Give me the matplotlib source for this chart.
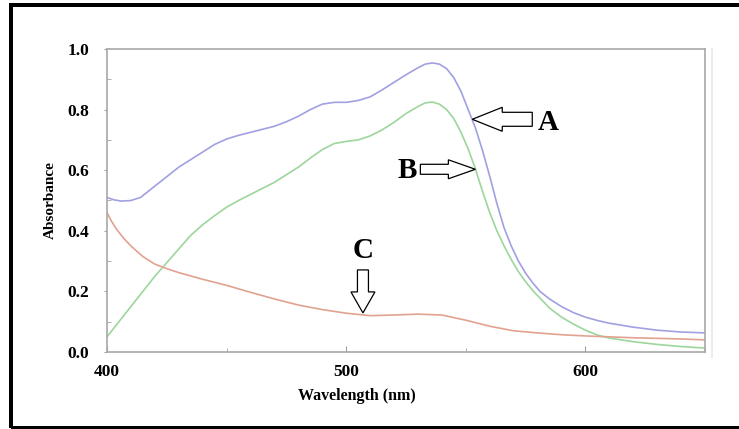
import matplotlib
matplotlib.use("Agg")
import matplotlib.pyplot as plt
from matplotlib.patches import Polygon, Rectangle
from matplotlib.lines import Line2D
from matplotlib.ticker import MultipleLocator, FormatStrFormatter

plt.rcParams['font.family'] = ['Liberation Serif', 'DejaVu Serif']
plt.rcParams['font.weight'] = 'bold'

# ---- data ----
wl_A = [400, 403, 406, 410, 414, 418, 422, 426, 430, 435, 440, 445, 450, 455, 460,
        465, 470, 475, 480, 485, 490, 495, 500, 505, 510, 515, 520, 525, 530, 533,
        536, 539, 542, 545, 548, 551, 554, 557, 560, 563, 566, 569, 572, 575, 578,
        581, 585, 590, 595, 600, 605, 610, 620, 630, 640, 650]
abs_A = [0.51, 0.502, 0.498, 0.50, 0.51, 0.535, 0.56, 0.585, 0.61, 0.635, 0.66, 0.685,
         0.703, 0.715, 0.725, 0.735, 0.745, 0.76, 0.778, 0.80, 0.818, 0.824, 0.824,
         0.83, 0.842, 0.865, 0.89, 0.915, 0.938, 0.95, 0.954, 0.95, 0.935, 0.905,
         0.86, 0.80, 0.74, 0.665, 0.58, 0.49, 0.41, 0.35, 0.30, 0.26, 0.228, 0.20,
         0.175, 0.15, 0.13, 0.115, 0.104, 0.095, 0.082, 0.072, 0.066, 0.063]

wl_B = [400, 405, 410, 415, 420, 425, 430, 435, 440, 445, 450, 455, 460, 465, 470,
        475, 480, 485, 490, 495, 500, 505, 510, 515, 520, 525, 530, 533, 536, 539,
        542, 545, 548, 551, 554, 557, 560, 563, 566, 569, 572, 575, 578, 581, 585,
        590, 595, 600, 605, 610, 620, 630, 640, 650]
abs_B = [0.05, 0.10, 0.15, 0.20, 0.25, 0.295, 0.34, 0.385, 0.42, 0.45, 0.478, 0.50,
         0.52, 0.54, 0.56, 0.585, 0.61, 0.64, 0.668, 0.688, 0.695, 0.70, 0.713, 0.733,
         0.758, 0.787, 0.81, 0.822, 0.825, 0.818, 0.80, 0.77, 0.725, 0.67, 0.605,
         0.53, 0.46, 0.40, 0.35, 0.305, 0.265, 0.232, 0.203, 0.178, 0.145, 0.115,
         0.092, 0.072, 0.056, 0.046, 0.034, 0.025, 0.018, 0.013]

wl_C = [400, 402, 404, 407, 410, 415, 420, 425, 430, 440, 450, 460, 470, 480, 490,
        500, 510, 520, 530, 540, 550, 560, 570, 580, 590, 600, 610, 620, 630, 640, 650]
abs_C = [0.46, 0.43, 0.405, 0.375, 0.35, 0.315, 0.29, 0.275, 0.262, 0.24, 0.22, 0.197,
         0.175, 0.155, 0.14, 0.128, 0.12, 0.122, 0.125, 0.122, 0.105, 0.085, 0.07,
         0.063, 0.057, 0.053, 0.05, 0.047, 0.045, 0.043, 0.04]

x_ticks = [400, 500, 600]
y_ticks = [0.0, 0.2, 0.4, 0.6, 0.8, 1.0]

# annotation tips (wavelength, absorbance)
ann_A = (552.7, 0.768)
ann_B = (554.0, 0.603)
ann_C = (507.0, 0.129)

W, H = 739, 429
fig = plt.figure(figsize=(W / 100, H / 100), dpi=100)
fig.patch.set_facecolor('white')

ax = fig.add_axes([107 / W, 1 - 352 / H, (705 - 107) / W, (352 - 49) / H])
ax.plot(wl_A, abs_A, color='#a0a0e2', lw=1.2)
ax.plot(wl_B, abs_B, color='#9cd69c', lw=1.2)
ax.plot(wl_C, abs_C, color='#e2a290', lw=1.2)

ax.set_xlim(400, 650)
ax.set_ylim(0, 1.0)
ax.set_xticks(x_ticks)
ax.set_yticks(y_ticks)
ax.xaxis.set_minor_locator(MultipleLocator(50))
ax.yaxis.set_minor_locator(MultipleLocator(0.1))
ax.yaxis.set_major_formatter(FormatStrFormatter('%.1f'))
for s in ax.spines.values():
    s.set_color('#a8a8a8')
    s.set_linewidth(1.2)
ax.tick_params(axis='x', which='major', direction='in', length=4, color='#a0a0a0',
               labelsize=12.5, pad=9)
ax.tick_params(axis='x', which='minor', direction='in', length=3, color='#a0a0a0')
ax.tick_params(axis='y', which='major', direction='out', length=2, color='#a0a0a0',
               labelsize=12.5, pad=11)
ax.tick_params(axis='y', which='minor', direction='in', length=3, color='#a0a0a0')
for lab in ax.get_xticklabels() + ax.get_yticklabels():
    lab.set_fontweight('bold')

fig.text(50 / W, 1 - 200 / H, 'Absorbance', rotation=90, ha='center', va='center',
         fontsize=11, fontweight='bold')
fig.text(357 / W, 1 - 396 / H, 'Wavelength (nm)', ha='center', va='center',
         fontsize=11.5, fontweight='bold')

# faint shadow line to the right of the plot frame
fig.add_artist(Line2D([712, 712], [H - 49, H - 357], color='#ececec', lw=1.5,
                      transform=None))

# outer black frame
fig.add_artist(Rectangle((11, 1.5), 760, H - 6.5, fill=False, edgecolor='black',
                         lw=4 * 0.72, transform=None))


def to_px(pt):
    return ax.transData.transform(pt)


def block_arrow(tip, direction, head_len, head_half, shaft_len, shaft_half):
    tx, ty = to_px(tip)
    pts = [(0, 0), (head_len, head_half), (head_len, shaft_half),
           (head_len + shaft_len, shaft_half), (head_len + shaft_len, -shaft_half),
           (head_len, -shaft_half), (head_len, -head_half)]
    out = []
    for px, py in pts:
        if direction == 'left':
            out.append((tx + px, ty + py))
        elif direction == 'right':
            out.append((tx - px, ty + py))
        elif direction == 'down':
            out.append((tx + py, ty + px))
    fig.add_artist(Polygon(out, closed=True, facecolor='white', edgecolor='black',
                           lw=0.9, transform=None))


block_arrow(ann_A, 'left', 30, 12, 30, 7)
block_arrow(ann_B, 'right', 27, 9.5, 28, 5)
block_arrow(ann_C, 'down', 21, 12, 22, 5.5)

fig.text(548 / W, 1 - 123 / H, 'A', ha='center', va='center', fontsize=21, fontweight='bold')
fig.text(407 / W, 1 - 171 / H, 'B', ha='center', va='center', fontsize=21, fontweight='bold')
fig.text(363 / W, 1 - 250 / H, 'C', ha='center', va='center', fontsize=21, fontweight='bold')

fig.savefig('out.png', dpi=100)
